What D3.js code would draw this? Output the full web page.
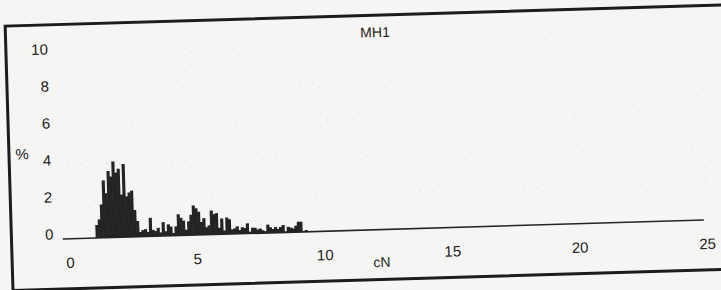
<!DOCTYPE html>
<html>
<head>
<meta charset="utf-8">
<script src="https://cdn.jsdelivr.net/npm/d3@7"></script>
<style>
  html, body { margin: 0; padding: 0; background: #f5f5f3; }
  svg { display: block; }
  text { font-family: "Liberation Sans", Arial, sans-serif; fill: #222; }
</style>
</head>
<body>
<svg id="chart" width="721" height="290"></svg>
<script>
// ---- data ----
const title = "MH1";
const xLabel = "cN";
const yLabel = "%";
const xTicks = [0, 5, 10, 15, 20, 25];
const yTicks = [0, 2, 4, 6, 8, 10];
const binWidth = 0.1;
const binCenters = [
  1.1, 1.2, 1.3, 1.4, 1.5, 1.6, 1.7, 1.8, 1.9, 2.0,
  2.1, 2.2, 2.3, 2.4, 2.5, 2.6, 2.7, 2.8, 2.9, 3.0,
  3.1, 3.2, 3.3, 3.4, 3.5, 3.6, 3.7, 3.8, 3.9, 4.0,
  4.1, 4.2, 4.3, 4.4, 4.5, 4.6, 4.7, 4.8, 4.9, 5.0,
  5.1, 5.2, 5.3, 5.4, 5.5, 5.6, 5.7, 5.8, 5.9, 6.0,
  6.1, 6.2, 6.3, 6.4, 6.5, 6.6, 6.7, 6.8, 6.9, 7.0,
  7.1, 7.2, 7.3, 7.4, 7.5, 7.6, 7.7, 7.8, 7.9, 8.0,
  8.1, 8.2, 8.3, 8.4, 8.5, 8.6, 8.7, 8.8, 8.9, 9.0,
  9.1, 9.2, 9.3
];
const percent = [
  0.7, 1.0, 1.8, 3.1, 2.4, 3.6, 3.3, 4.1, 3.5, 3.7,
  2.3, 3.95, 2.2, 2.4, 2.5, 1.45, 0.85, 0.25, 0.35, 0.4,
  0.25, 1.0, 0.35, 0.28, 0.45, 0.2, 0.75, 0.25, 0.62, 0.5,
  0.15, 0.5, 1.15, 0.95, 0.8, 0.3, 0.75, 1.1, 1.6, 1.45,
  1.25, 0.7, 0.9, 0.4, 0.5, 1.3, 1.1, 1.15, 0.35, 0.85,
  0.2, 0.9, 0.8, 0.25, 0.3, 0.4, 0.2, 0.35, 0.3, 0.55,
  0.1, 0.3, 0.3, 0.2, 0.25, 0.15, 0.1, 0.45, 0.3, 0.2,
  0.3, 0.2, 0.3, 0.4, 0.05, 0.3, 0.25, 0.2, 0.35, 0.55,
  0.55, 0.05, 0.1
];
const bins = binCenters.map((c, i) => ({ c, v: percent[i] }));

// ---- layout ----
const svg = d3.select("#chart");
const x = d3.scaleLinear().domain([0, 25]).range([69.2, 706.7]);
const y = d3.scaleLinear().domain([0, 10]).range([239, 53.8]);

// the scanned page is slightly tilted
const root = svg.append("g").attr("transform", "rotate(-1.7, 63, 239)");

// frame
root.append("path")
  .attr("d", "M 780 24.5 L 11.5 24.5 L 11.5 289 L 780 289")
  .attr("fill", "none")
  .attr("stroke", "#1c1c1c")
  .attr("stroke-width", 3);

// faint grid (barely visible in the scan)
const grid = root.append("g").attr("stroke", "#e4e4e2").attr("stroke-width", 1)
  .attr("stroke-dasharray", "2,11");
grid.selectAll("line.h").data(yTicks.slice(1)).join("line")
  .attr("class", "h")
  .attr("x1", x(0)).attr("x2", x(25))
  .attr("y1", d => y(d)).attr("y2", d => y(d));
grid.selectAll("line.v").data(xTicks.slice(1)).join("line")
  .attr("class", "v")
  .attr("x1", d => x(d)).attr("x2", d => x(d))
  .attr("y1", y(0)).attr("y2", y(10));

// bars (slight overlap so adjacent bars read as a solid mass, as in the print)
root.append("g").attr("fill", "#242424")
  .selectAll("rect").data(bins).join("rect")
  .attr("x", d => x(d.c - binWidth / 2) - 0.3)
  .attr("width", d => x(d.c + binWidth / 2) - x(d.c - binWidth / 2) + 0.6)
  .attr("y", d => y(d.v))
  .attr("height", d => y(0) - y(d.v));

// baseline
root.append("line")
  .attr("x1", x(-0.25)).attr("x2", x(24.9))
  .attr("y1", y(0)).attr("y2", y(0))
  .attr("stroke", "#242424").attr("stroke-width", 1.6);

// y axis labels
const yAxis = root.append("g")
  .attr("transform", "translate(53.5,0)")
  .call(d3.axisLeft(y).tickValues(yTicks).tickSize(0).tickPadding(0).tickFormat(d3.format("d")));
yAxis.select(".domain").remove();
yAxis.selectAll("text").attr("dy", -0.2).style("font-size", "15px")
  .style("font-family", "'Liberation Sans', Arial, sans-serif").attr("fill", "#222");

// x axis labels
const xAxis = root.append("g")
  .attr("transform", `translate(0,${y(0)})`)
  .call(d3.axisBottom(x).tickValues(xTicks).tickSize(0).tickPadding(18.5).tickFormat(d3.format("d")));
xAxis.select(".domain").remove();
xAxis.selectAll("text").style("font-size", "15px")
  .style("font-family", "'Liberation Sans', Arial, sans-serif").attr("fill", "#222");

// titles
root.append("text").attr("x", 381).attr("y", 46.5).attr("text-anchor", "middle")
  .style("font-size", "14px").text(title);
root.append("text").attr("x", 381).attr("y", 276.5).attr("text-anchor", "middle")
  .style("font-size", "14px").text(xLabel);
root.append("text").attr("x", 24.5).attr("y", 158).attr("text-anchor", "middle")
  .style("font-size", "15px").text(yLabel);
</script>
</body>
</html>
